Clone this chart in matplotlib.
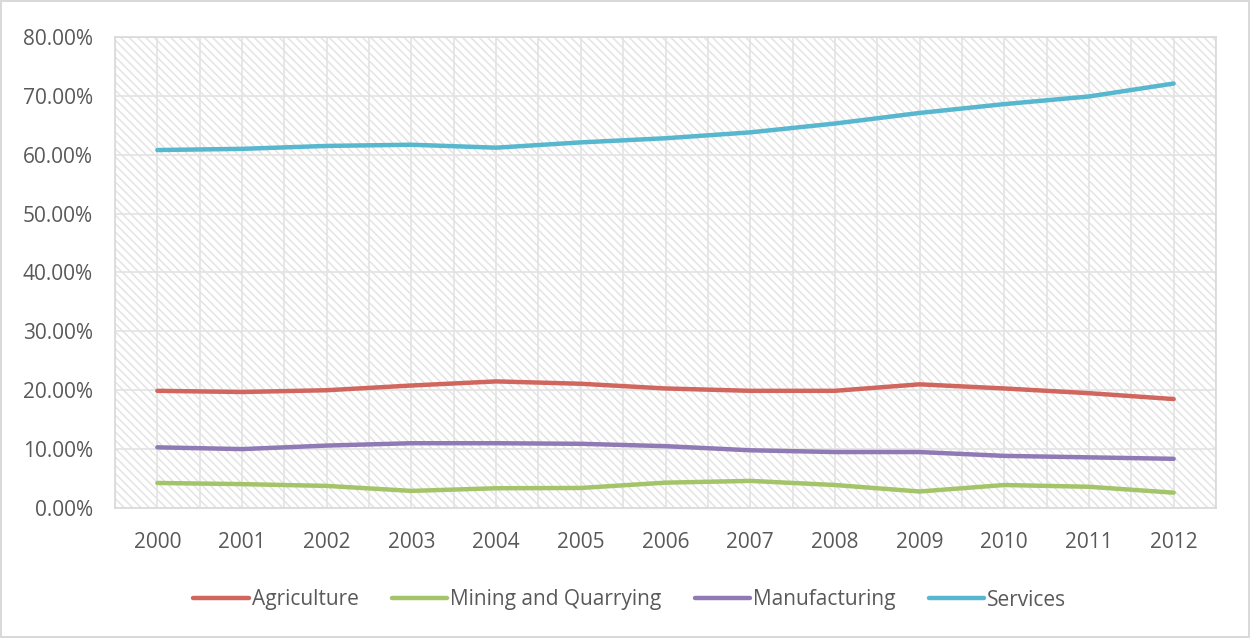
import numpy as np
import matplotlib
matplotlib.use('Agg')
import matplotlib.pyplot as plt
from matplotlib.patches import Rectangle
from matplotlib.ticker import FuncFormatter, MultipleLocator

years = ['2000', '2001', '2002', '2003', '2004', '2005', '2006',
         '2007', '2008', '2009', '2010', '2011', '2012']
agriculture = [19.9, 19.7, 20.0, 20.8, 21.5, 21.1, 20.3, 19.9, 19.9, 21.0, 20.3, 19.5, 18.5]
mining = [4.25, 4.05, 3.75, 2.9, 3.35, 3.4, 4.3, 4.6, 3.9, 2.8, 3.9, 3.6, 2.6]
manufacturing = [10.3, 10.0, 10.6, 11.0, 11.0, 10.9, 10.5, 9.8, 9.5, 9.5, 8.85, 8.6, 8.35]
services = [60.8, 61.0, 61.5, 61.7, 61.2, 62.1, 62.8, 63.8, 65.3, 67.1, 68.6, 69.9, 72.1]

series = [('Agriculture', agriculture, '#d0665e'),
          ('Mining and Quarrying', mining, '#a4c46a'),
          ('Manufacturing', manufacturing, '#8f7ab5'),
          ('Services', services, '#56b7cf')]

plt.rcParams['font.family'] = ['Open Sans', 'DejaVu Sans']
plt.rcParams['hatch.color'] = '#e4e4e4'
plt.rcParams['hatch.linewidth'] = 1.1

fig = plt.figure(figsize=(12.5, 6.38), dpi=100)
fig.patch.set_edgecolor('#d9d9d9')
fig.patch.set_linewidth(1.5)
ax = fig.add_axes([0.092, 0.2038, 0.8808, 0.7382])

# hatched background of the plot area
bg = Rectangle((0, 0), 1, 1, transform=ax.transAxes, facecolor='white',
               edgecolor='#e4e4e4', hatch='\\\\\\\\', linewidth=0, zorder=0)
ax.add_patch(bg)

x = np.arange(len(years))
for name, vals, col in series:
    ax.plot(x, vals, color=col, lw=3.2, label=name, zorder=3,
            solid_capstyle='round', solid_joinstyle='round')

ax.set_xlim(-0.5, len(years) - 0.5)
ax.set_ylim(0, 80)
ax.set_xticks(x)
ax.set_xticklabels(years)
ax.set_xticks(np.arange(-0.5, len(years), 1), minor=True)
ax.yaxis.set_major_locator(MultipleLocator(10))
ax.yaxis.set_major_formatter(FuncFormatter(lambda v, p: '%.2f%%' % v))
ax.tick_params(axis='both', which='both', length=0, labelsize=15,
               labelcolor='#595959')
ax.tick_params(axis='x', pad=17)
ax.tick_params(axis='y', pad=16)
ax.grid(True, which='both', axis='x', color='#e3e3e3', lw=1.2, zorder=1)
ax.grid(True, which='major', axis='y', color='#e3e3e3', lw=1.2, zorder=1)
ax.set_axisbelow(True)
for s in ax.spines.values():
    s.set_color('#d9d9d9')
    s.set_linewidth(1.2)

fig.legend(*ax.get_legend_handles_labels(), loc='center',
           bbox_to_anchor=(630 / 1250, 1 - 600 / 638), ncol=4,
           frameon=False, fontsize=15, labelcolor='#595959',
           handlelength=2.65, handletextpad=0.15, columnspacing=1.6)

fig.savefig('out.png', dpi=100)
